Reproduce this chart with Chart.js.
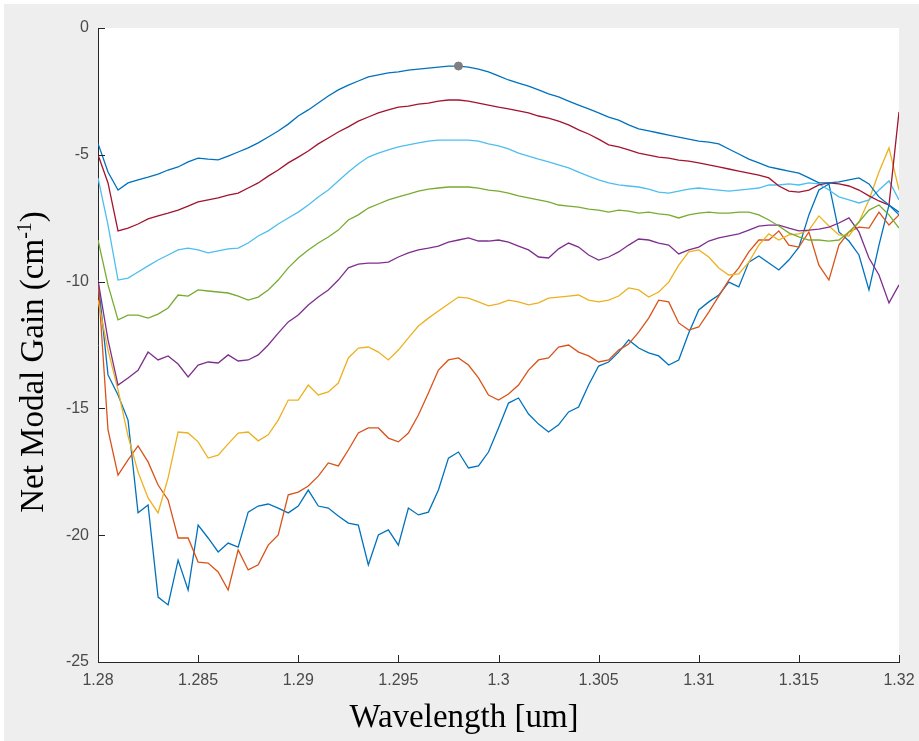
<!DOCTYPE html>
<html>
<head>
<meta charset="utf-8">
<title>Net Modal Gain</title>
<script src="https://cdn.jsdelivr.net/npm/chart.js@4.4.1/dist/chart.umd.min.js"></script>
<style>
  html, body { margin: 0; padding: 0; background: #eeeeee; }
  canvas { display: block; }
</style>
</head>
<body>
<canvas id="gainChart" width="919" height="741"></canvas>
<script>
  // sampling grid: 1.28 .. 1.32 um in 0.5 nm steps (81 points)
  const wavelength = [];
  for (let i = 0; i <= 80; i++) wavelength.push(+(1.28 + i * 0.0005).toFixed(4));

  const xTicks = [1.28, 1.285, 1.29, 1.295, 1.3, 1.305, 1.31, 1.315, 1.32];
  const yTicks = [-25, -20, -15, -10, -5, 0];

  // net modal gain (cm^-1), lowest drive current first
  const gain1 = [-9.94,-13.68,-14.47,-15.46,-19.12,-18.81,-22.44,-22.75,-20.98,-22.16,
    -19.6,-20.11,-20.66,-20.31,-20.47,-19.09,-18.85,-18.77,-18.93,-19.12,
    -18.85,-18.22,-18.85,-18.93,-19.24,-19.52,-19.6,-21.17,-19.99,-19.79,
    -20.39,-18.93,-19.2,-19.09,-18.22,-16.96,-16.72,-17.35,-17.27,-16.72,
    -15.77,-14.79,-14.59,-15.22,-15.62,-15.93,-15.65,-15.14,-14.95,-14.08,
    -13.33,-13.17,-12.78,-12.3,-12.62,-12.81,-12.93,-13.29,-13.09,-12.03,
    -11.12,-10.8,-10.53,-10.02,-10.21,-9.23,-8.99,-9.27,-9.54,-9.15,
    -8.64,-7.37,-6.39,-6.15,-8.04,-8.4,-8.95,-10.33,-8.56,-6.98,-7.37];

  const gain2 = [-9.94,-15.85,-17.63,-17.03,-16.48,-17.11,-18.02,-18.61,-20.11,-20.11,
    -21.06,-21.1,-21.45,-22.16,-20.58,-21.37,-21.17,-20.39,-19.99,-18.41,
    -18.3,-18.06,-17.67,-17.15,-17.27,-16.64,-15.97,-15.77,-15.77,-16.17,
    -16.32,-15.97,-15.26,-14.39,-13.49,-13.09,-13.01,-13.29,-13.8,-14.47,
    -14.67,-14.43,-14.08,-13.49,-13.09,-13.01,-12.58,-12.5,-12.78,-12.93,
    -13.17,-13.09,-12.7,-12.46,-11.99,-11.44,-10.73,-10.8,-11.63,-11.91,
    -11.79,-11.2,-10.57,-9.94,-9.46,-8.83,-8.36,-8.36,-8.0,-8.56,
    -8.64,-8.04,-9.35,-9.94,-8.56,-8.04,-7.85,-7.89,-7.26,-7.77,-7.37];

  const gain3 = [-10.73,-12.7,-14.27,-16.09,-17.51,-18.53,-19.12,-17.74,-15.93,-15.97,
    -16.32,-16.96,-16.84,-16.4,-15.97,-15.93,-16.28,-16.04,-15.46,-14.67,
    -14.67,-14.08,-14.47,-14.35,-14.0,-13.01,-12.62,-12.58,-12.78,-13.09,
    -12.7,-12.22,-11.75,-11.44,-11.16,-10.88,-10.61,-10.65,-10.8,-10.96,
    -10.88,-10.73,-10.8,-10.92,-10.84,-10.65,-10.61,-10.57,-10.53,-10.73,
    -10.8,-10.73,-10.57,-10.25,-10.33,-10.61,-10.41,-10.02,-9.35,-8.83,
    -8.75,-9.03,-9.46,-9.74,-9.7,-9.23,-8.56,-8.12,-8.36,-8.16,
    -8.12,-7.97,-7.41,-7.81,-8.16,-8.2,-7.65,-6.78,-5.68,-4.73,-6.39];

  const gain4 = [-9.94,-12.3,-14.08,-13.8,-13.5,-12.78,-13.09,-12.93,-13.25,-13.76,
    -13.29,-13.17,-13.21,-12.89,-13.13,-13.09,-12.89,-12.5,-12.03,-11.59,
    -11.32,-10.92,-10.61,-10.33,-9.94,-9.46,-9.31,-9.27,-9.27,-9.23,
    -9.03,-8.87,-8.75,-8.68,-8.6,-8.44,-8.36,-8.28,-8.4,-8.4,
    -8.36,-8.44,-8.6,-8.75,-9.03,-9.07,-8.71,-8.48,-8.64,-8.95,
    -9.15,-9.03,-8.83,-8.56,-8.32,-8.36,-8.48,-8.56,-8.91,-8.75,
    -8.64,-8.4,-8.28,-8.2,-8.12,-7.97,-7.81,-7.77,-7.77,-7.89,
    -8.0,-7.97,-7.93,-7.85,-7.69,-7.49,-8.04,-9.07,-9.74,-10.84,-10.13];

  const gain5 = [-8.36,-10.13,-11.51,-11.32,-11.32,-11.44,-11.28,-11.04,-10.53,-10.57,
    -10.33,-10.37,-10.41,-10.45,-10.57,-10.73,-10.61,-10.33,-9.94,-9.46,
    -9.07,-8.75,-8.48,-8.24,-7.97,-7.57,-7.37,-7.1,-6.94,-6.78,
    -6.66,-6.55,-6.43,-6.35,-6.31,-6.27,-6.27,-6.27,-6.31,-6.39,
    -6.43,-6.51,-6.62,-6.7,-6.78,-6.86,-6.98,-7.02,-7.06,-7.14,
    -7.18,-7.26,-7.18,-7.22,-7.3,-7.26,-7.33,-7.37,-7.49,-7.37,
    -7.3,-7.26,-7.3,-7.3,-7.26,-7.26,-7.37,-7.57,-7.81,-8.08,
    -8.24,-8.36,-8.36,-8.4,-8.36,-8.04,-7.65,-7.18,-6.98,-7.37,-7.89];

  const gain6 = [-5.91,-7.77,-9.94,-9.86,-9.62,-9.38,-9.15,-8.95,-8.75,-8.68,
    -8.75,-8.87,-8.79,-8.71,-8.68,-8.48,-8.2,-8.0,-7.73,-7.49,
    -7.26,-6.98,-6.66,-6.39,-6.03,-5.68,-5.36,-5.09,-4.93,-4.81,
    -4.69,-4.61,-4.53,-4.46,-4.42,-4.42,-4.42,-4.42,-4.46,-4.57,
    -4.65,-4.77,-4.93,-5.05,-5.17,-5.28,-5.4,-5.52,-5.68,-5.84,
    -5.99,-6.11,-6.19,-6.23,-6.27,-6.35,-6.47,-6.51,-6.43,-6.35,
    -6.31,-6.35,-6.39,-6.43,-6.39,-6.35,-6.31,-6.19,-6.19,-6.15,
    -6.19,-6.11,-6.15,-6.39,-6.66,-6.78,-6.9,-6.78,-6.39,-6.03,-6.78];

  const gain7 = [-5.0,-6.11,-8.0,-7.89,-7.73,-7.53,-7.41,-7.3,-7.18,-7.02,
    -6.86,-6.78,-6.7,-6.59,-6.51,-6.31,-6.11,-5.84,-5.6,-5.32,
    -5.09,-4.85,-4.57,-4.34,-4.1,-3.9,-3.67,-3.51,-3.35,-3.23,
    -3.12,-3.08,-3.0,-2.96,-2.88,-2.84,-2.84,-2.88,-2.96,-3.04,
    -3.12,-3.19,-3.27,-3.35,-3.47,-3.55,-3.67,-3.82,-4.02,-4.18,
    -4.38,-4.61,-4.69,-4.81,-4.93,-5.01,-5.09,-5.13,-5.21,-5.25,
    -5.32,-5.4,-5.48,-5.56,-5.64,-5.72,-5.8,-5.91,-6.23,-6.43,
    -6.47,-6.39,-6.19,-6.11,-6.15,-6.23,-6.39,-6.62,-6.82,-6.98,-3.31];

  const gain8 = [-4.55,-5.68,-6.39,-6.11,-5.99,-5.88,-5.76,-5.6,-5.48,-5.28,
    -5.13,-5.17,-5.2,-5.05,-4.89,-4.73,-4.53,-4.3,-4.06,-3.79,
    -3.47,-3.23,-2.96,-2.68,-2.44,-2.25,-2.09,-1.93,-1.85,-1.77,
    -1.73,-1.66,-1.62,-1.58,-1.54,-1.5,-1.5,-1.54,-1.62,-1.73,
    -1.89,-2.05,-2.17,-2.29,-2.44,-2.6,-2.72,-2.88,-3.04,-3.19,
    -3.35,-3.51,-3.63,-3.82,-3.98,-4.06,-4.14,-4.22,-4.3,-4.38,
    -4.46,-4.5,-4.57,-4.77,-4.97,-5.17,-5.32,-5.48,-5.56,-5.64,
    -5.72,-5.91,-6.11,-6.11,-6.07,-5.99,-5.91,-6.15,-6.66,-6.98,-7.26];

  const seriesList = [gain1, gain2, gain3, gain4, gain5, gain6, gain7, gain8];
  const seriesColors = ["#0072BD","#D95319","#EDB120","#7E2F8E","#77AC30","#4DBEEE","#A2142F","#0072BD"];

  // data tip on the peak of the top curve
  const tipIndex = 36;

  const datasets = seriesList.map((s, k) => ({
    data: wavelength.map((w, i) => ({ x: w, y: s[i] })),
    borderColor: seriesColors[k],
    borderWidth: 1.3,
    pointRadius: 0,
    tension: 0,
    fill: false,
    order: seriesList.length - k
  }));
  datasets.push({
    data: [{ x: wavelength[tipIndex], y: gain8[tipIndex] }],
    showLine: false,
    pointRadius: 4,
    pointBackgroundColor: "#7f7f7f",
    pointBorderColor: "#7f7f7f",
    order: -1
  });

  const AXIS_COLOR = "#262626";

  // page background, white axes area, inward ticks and axis titles
  const figurePlugin = {
    id: "figure",
    beforeDraw(chart) {
      const { ctx, chartArea: a } = chart;
      ctx.save();
      ctx.fillStyle = "#eeeeee";
      ctx.fillRect(0, 0, chart.width, chart.height);
      ctx.fillStyle = "#ffffff";
      ctx.fillRect(0, 0, chart.width, 4);
      ctx.fillRect(0, 0, 4, chart.height);
      ctx.fillRect(a.left, a.top, a.right - a.left, a.bottom - a.top);
      ctx.restore();
    },
    afterDraw(chart) {
      const { ctx, chartArea: a, scales } = chart;
      ctx.save();
      ctx.strokeStyle = AXIS_COLOR;
      ctx.lineWidth = 1;
      ctx.beginPath();
      xTicks.forEach(v => {
        const px = Math.round(scales.x.getPixelForValue(v)) + 0.5;
        ctx.moveTo(px, a.bottom);
        ctx.lineTo(px, a.bottom - 7);
      });
      yTicks.forEach(v => {
        const py = Math.round(scales.y.getPixelForValue(v)) + 0.5;
        ctx.moveTo(a.left, py);
        ctx.lineTo(a.left + 7, py);
      });
      ctx.stroke();

      ctx.fillStyle = "#000000";
      ctx.textAlign = "center";
      ctx.textBaseline = "alphabetic";
      ctx.font = '33px "Liberation Serif", "Times New Roman", serif';
      ctx.fillText("Wavelength [um]", 464, 727);

      // y title with superscript exponent
      const main = "Net Modal Gain (cm", sup = "-1", close = ")";
      ctx.translate(43, 362);
      ctx.rotate(-Math.PI / 2);
      ctx.textAlign = "left";
      const w1 = ctx.measureText(main).width;
      const w3 = ctx.measureText(close).width;
      ctx.font = '20px "Liberation Serif", "Times New Roman", serif';
      const w2 = ctx.measureText(sup).width;
      let x0 = -(w1 + w2 + w3) / 2;
      ctx.font = '33px "Liberation Serif", "Times New Roman", serif';
      ctx.fillText(main, x0, 0);
      ctx.font = '20px "Liberation Serif", "Times New Roman", serif';
      ctx.fillText(sup, x0 + w1, -12);
      ctx.font = '33px "Liberation Serif", "Times New Roman", serif';
      ctx.fillText(close, x0 + w1 + w2, 0);
      ctx.restore();
    }
  };

  const tickFont = { family: '"Liberation Sans", Arial, sans-serif', size: 16 };

  new Chart(document.getElementById("gainChart").getContext("2d"), {
    type: "line",
    data: { datasets },
    options: {
      responsive: false,
      devicePixelRatio: 1,
      animation: false,
      layout: { padding: { left: 0, top: 28, right: 20, bottom: 0 } },
      plugins: { legend: { display: false }, tooltip: { enabled: false } },
      scales: {
        x: {
          type: "linear",
          min: 1.28,
          max: 1.32,
          afterBuildTicks: s => { s.ticks = xTicks.map(v => ({ value: v })); },
          afterFit: s => { s.height = 79; s.paddingLeft = 0; s.paddingRight = 0; },
          grid: { display: true, drawOnChartArea: false, drawTicks: false },
          border: { display: true, color: AXIS_COLOR, width: 1 },
          ticks: {
            padding: 9,
            color: "#4a4a4a",
            font: tickFont,
            maxRotation: 0,
            autoSkip: false,
            callback: v => String(+v.toFixed(3))
          }
        },
        y: {
          type: "linear",
          min: -25,
          max: 0,
          afterBuildTicks: s => { s.ticks = yTicks.map(v => ({ value: v })); },
          afterFit: s => { s.width = 98; s.paddingTop = 0; s.paddingBottom = 0; },
          grid: { display: true, drawOnChartArea: false, drawTicks: false },
          border: { display: true, color: AXIS_COLOR, width: 1 },
          ticks: {
            padding: 9,
            color: "#4a4a4a",
            font: tickFont,
            callback: v => String(v)
          }
        }
      }
    },
    plugins: [figurePlugin]
  });
</script>
</body>
</html>
